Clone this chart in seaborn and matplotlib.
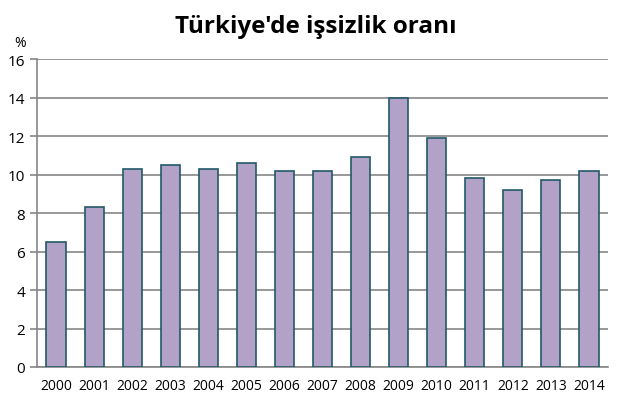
import matplotlib
matplotlib.use("Agg")
import matplotlib.pyplot as plt
import seaborn as sns
import numpy as np
import pandas as pd

years = ["2000", "2001", "2002", "2003", "2004", "2005", "2006", "2007",
         "2008", "2009", "2010", "2011", "2012", "2013", "2014"]
rates = [6.5, 8.3, 10.3, 10.5, 10.3, 10.6, 10.2, 10.2,
         10.9, 14.0, 11.9, 9.8, 9.2, 9.7, 10.2]
y_ticks = [0, 2, 4, 6, 8, 10, 12, 14, 16]

df = pd.DataFrame({"year": years, "rate": rates})

sns.set_style("white")
plt.rcParams['font.family'] = ['Open Sans', 'DejaVu Sans']
plt.rcParams['text.color'] = 'black'
plt.rcParams['xtick.color'] = 'black'
plt.rcParams['ytick.color'] = 'black'

grid_col = "#868686"
fig = plt.figure(figsize=(6.31, 4.06), dpi=100)
ax = fig.add_axes([0.0586, 0.0936, 0.905, 0.7584])

sns.barplot(data=df, x="year", y="rate", color="#B3A2C7", saturation=1,
            width=0.5, edgecolor="#215968", linewidth=1.2, ax=ax, zorder=3)

ax.set_ylim(0, 16)
ax.set_xlim(-0.5, len(years) - 0.5)
ax.set_yticks(y_ticks)
ax.yaxis.grid(True, color=grid_col, linewidth=1.2, zorder=0)
ax.set_axisbelow(True)
for s in ["top", "right"]:
    ax.spines[s].set_visible(False)
for s in ["left", "bottom"]:
    ax.spines[s].set_color(grid_col)
    ax.spines[s].set_linewidth(1.2)

# x ticks sit on category boundaries
ax.set_xticks(np.arange(len(years)))
ax.set_xticklabels(years)
ax.set_xticks(np.arange(-0.5, len(years), 1.0), minor=True)
ax.tick_params(axis="x", which="major", length=0, labelsize=10, pad=8,
               labelcolor="black")
ax.tick_params(axis="x", which="minor", length=5, color=grid_col, width=1.2)
ax.tick_params(axis="y", length=5, color=grid_col, width=1.2, labelsize=11,
               left=True, labelcolor="black")
ax.set_xlabel("")
ax.set_ylabel("")

fig.text(0.023, 0.885, "%", fontsize=10, color="black")
fig.text(0.5, 0.933, "Türkiye'de işsizlik oranı", ha="center", va="center",
         fontsize=17.5, fontweight="bold", color="black")

fig.savefig("out.png", dpi=100)
